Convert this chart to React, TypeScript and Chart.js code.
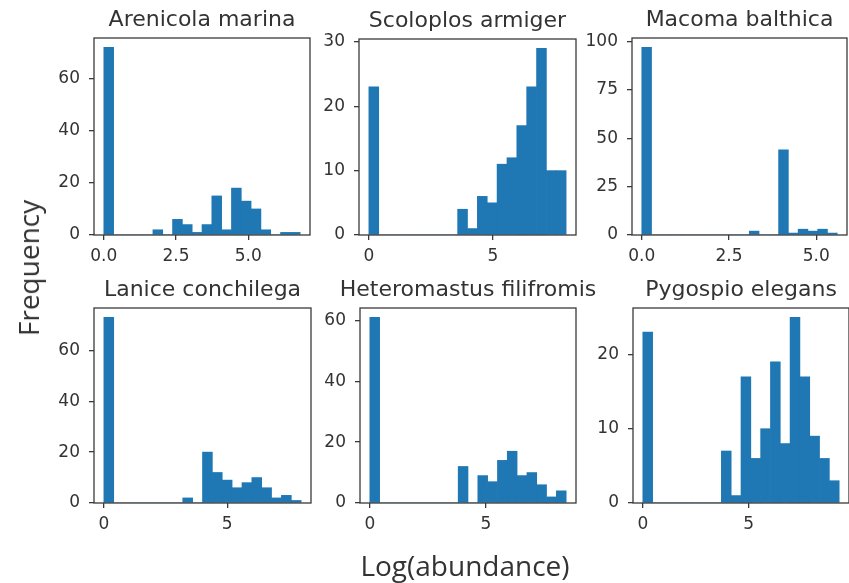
import React, { useEffect, useRef } from 'react';
import { Chart, registerables } from 'chart.js';

Chart.register(...registerables);

// ---- histogram data: 20 equal-width bins from 0 to the range maximum ----
const BIN_COUNT = 20;

const speciesTitles = [
  'Arenicola marina',
  'Scoloplos armiger',
  'Macoma balthica',
  'Lanice conchilega',
  'Heteromastus filifromis',
  'Pygospio elegans',
];

// upper end of the log(abundance) range for each species
const rangeMax = [6.8, 7.95, 5.6, 8.0, 8.45, 9.27];

const arenicolaCounts = [72, 0, 0, 0, 0, 2, 0, 6, 4, 1, 4, 15, 2, 18, 13, 10, 2, 0, 1, 1];
const scoloplosCounts = [23, 0, 0, 0, 0, 0, 0, 0, 0, 4, 1, 6, 5, 11, 12, 17, 23, 29, 10, 10];
const macomaCounts = [97, 0, 0, 0, 0, 0, 0, 0, 0, 0, 0, 2, 0, 0, 44, 1, 3, 2, 3, 1];
const laniceCounts = [73, 0, 0, 0, 0, 0, 0, 0, 2, 0, 20, 12, 9, 6, 8, 10, 6, 2, 3, 1];
const heteromastusCounts = [61, 0, 0, 0, 0, 0, 0, 0, 0, 12, 0, 9, 7, 14, 17, 9, 10, 6, 2, 4];
const pygospioCounts = [23, 0, 0, 0, 0, 0, 0, 0, 7, 1, 17, 6, 10, 19, 8, 25, 17, 9, 6, 3];

const speciesCounts = [
  arenicolaCounts,
  scoloplosCounts,
  macomaCounts,
  laniceCounts,
  heteromastusCounts,
  pygospioCounts,
];

const xTickValues = [[0, 2.5, 5], [0, 5], [0, 2.5, 5], [0, 5], [0, 5], [0, 5]];
const xTickLabels = [['0.0', '2.5', '5.0'], ['0', '5'], ['0.0', '2.5', '5.0'], ['0', '5'], ['0', '5'], ['0', '5']];
const yTickValues = [
  [0, 20, 40, 60],
  [0, 10, 20, 30],
  [0, 25, 50, 75, 100],
  [0, 20, 40, 60],
  [0, 20, 40, 60],
  [0, 10, 20],
];

const Y_LABEL = 'Frequency';
const X_LABEL = 'Log(abundance)';

// ---- layout (plot-box edges in page pixels) ----
const PANEL_BOXES = [
  { left: 94, top: 38, right: 309.5, bottom: 235 },
  { left: 359, top: 39, right: 576, bottom: 235 },
  { left: 632, top: 38, right: 847, bottom: 235 },
  { left: 94, top: 307.5, right: 310.5, bottom: 502.5 },
  { left: 359.5, top: 307.5, right: 575, bottom: 502.5 },
  { left: 632.5, top: 307.5, right: 848, bottom: 502.5 },
];

const AXIS_W = 60;
const XAXIS_H = 34;
const TITLE_PAD_TOP = 9;
const TITLE_LINE = 22;
const TITLE_PAD_BOTTOM = 7;
const TITLE_H = TITLE_PAD_TOP + TITLE_LINE + TITLE_PAD_BOTTOM;

const BAR_COLOR = '#1f77b4';
const TEXT_COLOR = '#333333';
const AXIS_COLOR = '#3a3a3a';
const FONT = "'DejaVu Sans', sans-serif";
const LABEL_FONT = "'Open Sans', sans-serif";

// draws the full rectangle around the plotting area
const framePlugin = {
  id: 'frame',
  afterDraw(chart: any) {
    const { ctx, chartArea } = chart;
    ctx.save();
    ctx.strokeStyle = AXIS_COLOR;
    ctx.lineWidth = 1.3;
    ctx.strokeRect(chartArea.left, chartArea.top, chartArea.right - chartArea.left, chartArea.bottom - chartArea.top);
    ctx.restore();
  },
};

function HistPanel({ index }: { index: number }) {
  const ref = useRef<HTMLCanvasElement>(null);
  const box = PANEL_BOXES[index];
  const width = Math.round(box.right - box.left) + 2 * AXIS_W;
  const height = TITLE_H + Math.round(box.bottom - box.top) + XAXIS_H;

  useEffect(() => {
    const counts = speciesCounts[index];
    const maxX = rangeMax[index];
    const binWidth = maxX / BIN_COUNT;
    const maxCount = Math.max(...counts);
    const xt = xTickValues[index];
    const xl = xTickLabels[index];
    const yt = yTickValues[index];

    const tickGrid = {
      display: true,
      offset: false,
      drawOnChartArea: false,
      drawTicks: true,
      tickLength: 5,
      color: AXIS_COLOR,
      lineWidth: 1.3,
    };

    const chart = new Chart(ref.current as HTMLCanvasElement, {
      type: 'bar',
      data: {
        datasets: [
          {
            data: counts.map((c, i) => ({ x: (i + 0.5) * binWidth, y: c })),
            backgroundColor: BAR_COLOR,
            borderWidth: 0,
            barPercentage: 1,
            categoryPercentage: 1,
          },
        ],
      },
      options: {
        animation: false,
        responsive: false,
        devicePixelRatio: 1,
        events: [],
        layout: { padding: 0 },
        plugins: {
          legend: { display: false },
          tooltip: { enabled: false },
          title: {
            display: true,
            text: speciesTitles[index],
            color: TEXT_COLOR,
            font: { family: FONT, size: 22, weight: 'normal', lineHeight: TITLE_LINE + 'px' },
            padding: { top: TITLE_PAD_TOP, bottom: TITLE_PAD_BOTTOM },
          },
        },
        scales: {
          x: {
            type: 'linear',
            offset: false,
            min: -0.05 * maxX,
            max: 1.05 * maxX,
            afterBuildTicks: (s: any) => {
              s.ticks = xt.map((v) => ({ value: v }));
            },
            afterFit: (s: any) => {
              s.height = XAXIS_H;
            },
            ticks: {
              autoSkip: false,
              maxRotation: 0,
              padding: 6,
              color: TEXT_COLOR,
              font: { family: FONT, size: 17 },
              callback: (_v: any, i: number) => xl[i],
            },
            grid: tickGrid,
            border: { display: false },
          },
          y: {
            type: 'linear',
            position: 'left',
            min: 0,
            max: 1.05 * maxCount,
            afterBuildTicks: (s: any) => {
              s.ticks = yt.map((v) => ({ value: v }));
            },
            afterFit: (s: any) => {
              s.width = AXIS_W;
            },
            ticks: {
              padding: 9,
              color: TEXT_COLOR,
              font: { family: FONT, size: 17 },
              callback: (v: any) => String(v),
            },
            grid: tickGrid,
            border: { display: false },
          },
          // empty right-hand axis that mirrors the left one, so the title centres over the plot box
          yMirror: {
            type: 'linear',
            axis: 'y',
            position: 'right',
            display: true,
            afterFit: (s: any) => {
              s.width = AXIS_W;
            },
            ticks: { display: false },
            grid: { display: false },
            border: { display: false },
          },
        },
      } as any,
      plugins: [framePlugin],
    });
    return () => chart.destroy();
  }, [index]);

  return (
    <canvas
      ref={ref}
      width={width}
      height={height}
      style={{
        position: 'absolute',
        left: box.left - AXIS_W,
        top: box.top - TITLE_H,
        width,
        height,
        display: 'block',
      }}
    />
  );
}

export default function App() {
  return (
    <div
      style={{
        position: 'absolute',
        left: 0,
        top: 0,
        width: 849,
        height: 583,
        overflow: 'hidden',
        background: '#ffffff',
      }}
    >
      {PANEL_BOXES.map((_, i) => (
        <HistPanel key={i} index={i} />
      ))}
      <div
        style={{
          position: 'absolute',
          left: 28,
          top: 268,
          transform: 'translate(-50%, -50%) rotate(-90deg)',
          fontFamily: LABEL_FONT,
          fontSize: 28,
          lineHeight: 1,
          color: TEXT_COLOR,
          whiteSpace: 'nowrap',
        }}
      >
        {Y_LABEL}
      </div>
      <div
        style={{
          position: 'absolute',
          left: 465,
          top: 565,
          transform: 'translate(-50%, -50%)',
          fontFamily: LABEL_FONT,
          fontSize: 28,
          lineHeight: 1,
          color: TEXT_COLOR,
          whiteSpace: 'nowrap',
        }}
      >
        {X_LABEL}
      </div>
    </div>
  );
}
